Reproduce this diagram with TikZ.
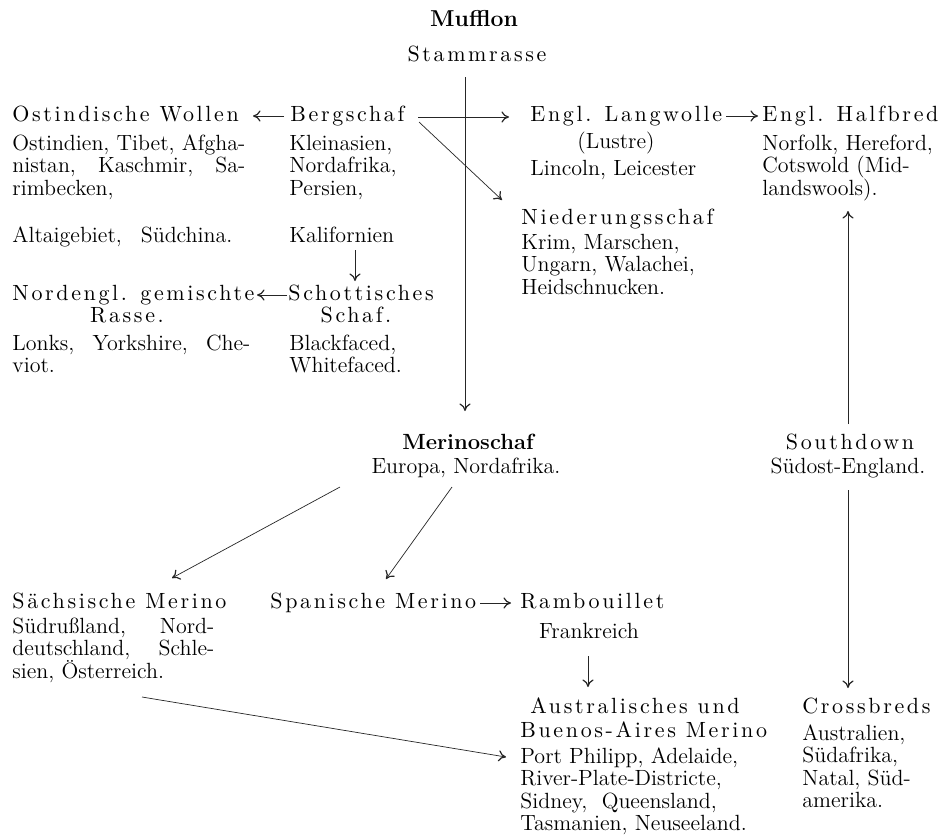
\documentclass[tikz,border=0pt]{standalone}
\usepackage{fontspec}
\usetikzlibrary{arrows.meta}
\newfontfamily\gesp{lmroman10-regular}[Extension=.otf, LetterSpace=12]
\newlength\jlen
\newcommand\jl[2]{\makebox[#1][s]{#2}}
\newcommand\blk[2]{\parbox[t]{#1}{#2}}
\newcommand\jfirst[2]{\settowidth\jlen{#1}#1\\\makebox[\jlen][s]{#2}}
\tikzset{
  every node/.style={font=\fontsize{11}{11.25}\selectfont, inner sep=0pt},
  lbl/.style={anchor=base west},
  ctr/.style={anchor=base},
  link/.style={line width=0.35pt, draw=black!85},
  arr/.style={link, -{To[length=3.8pt,width=5.6pt,line width=0.6pt]}},
}
\begin{document}
\begin{tikzpicture}[x=0.5pt,y=-0.5pt]
\fill[white] (0,0) rectangle (947,837);
\useasboundingbox (0,0) rectangle (947,837);

% top
\node[ctr,font=\fontsize{11.5}{11.25}\selectfont\bfseries] (mufflon) at (474,26) {Mufflon};
\node[ctr] (stamm) at (477,61) {\gesp Stammrasse};

% left upper
\node[lbl] (ostw) at (12,121) {\gesp Ostindische Wollen};
\node[lbl] (ostb) at (12,150) {\blk{130pt}{\jfirst{Ostindien, Tibet, Afgha-}{nistan, Kaschmir, Sa-}\\rimbecken,}};
\node[lbl] (alt) at (12,242) {\jl{110pt}{Altaigebiet, Südchina.}};

\node[lbl] (berg) at (290,121) {\gesp Bergschaf};
\node[lbl] (bergb) at (289,150) {\blk{80pt}{Kleinasien,\\Nordafrika,\\Persien,}};
\node[lbl] (kalif) at (289,242) {Kalifornien};

\node[lbl] (nord) at (12,300) {\gesp Nordengl. gemischte};
\node[ctr] (rasse) at (127,322) {\gesp Rasse.};
\node[lbl] (nordb) at (12,350) {\blk{130pt}{\jl{119pt}{Lonks, Yorkshire, Che-}\\viot.}};

\node[lbl] (schott) at (288,300) {\gesp Schottisches};
\node[ctr] (schaf) at (356,322) {\gesp Schaf.};
\node[lbl] (schottb) at (289,350) {\blk{80pt}{Blackfaced,\\Whitefaced.}};

% right upper
\node[lbl] (lang) at (530,121) {\gesp Engl. Langwolle};
\node[ctr] (lustre) at (616,148) {(Lustre)};
\node[lbl] (lincoln) at (530,175) {Lincoln, Leicester};

\node[lbl] (half) at (762,121) {\gesp Engl. Halfbred};
\node[lbl] (halfb) at (762,150) {\blk{110pt}{Norfolk, Hereford,\\Cotswold (Mid-\\landswools).}};

\node[lbl] (nied) at (521,224) {\gesp Niederungsschaf};
\node[lbl] (niedb) at (521,249) {\blk{100pt}{Krim, Marschen,\\Ungarn, Walachei,\\Heidschnucken.}};

% middle
\node[ctr,font=\fontsize{11}{11.25}\selectfont\bfseries] (merino) at (468,449) {Merinoschaf};
\node[ctr] (europa) at (466,473) {Europa, Nordafrika.};

\node[ctr] (south) at (850,449) {\gesp Southdown};
\node[ctr] (suedost) at (848,473) {Südost-England.};

% lower
\node[lbl] (saechs) at (12,608) {\gesp Sächsische Merino};
\node[lbl] (saechsb) at (12,633) {\blk{110pt}{\jl{101pt}{Südrußland, Nord-}\\\jl{101pt}{deutschland, Schle-}\\sien, Österreich.}};

\node[lbl] (span) at (270,608) {\gesp Spanische Merino};
\node[lbl] (ramb) at (520,608) {\gesp Rambouillet};
\node[ctr] (frank) at (589,638) {Frankreich};

\node[lbl] (aus1) at (530,713) {\gesp Australisches und};
\node[lbl] (aus2) at (520,737) {\gesp Buenos-Aires Merino};
\node[lbl] (ausb) at (520,763) {\blk{130pt}{Port Philipp, Adelaide,\\River-Plate-Districte,\\Sidney,\ \ Queensland,\\Tasmanien, Neuseeland.}};

\node[lbl] (cross) at (802,713) {\gesp Crossbreds};
\node[lbl] (crossb) at (802,740) {\blk{80pt}{Australien,\\Südafrika,\\Natal, Süd-\\amerika.}};

% connector end points
\coordinate (m0) at (465,77);   \coordinate (m1) at (465,411);
\coordinate (b0) at (284,116);  \coordinate (b1) at (253,116);
\coordinate (bl0) at (418,117); \coordinate (bl1) at (509,117);
\coordinate (bn0) at (419,122); \coordinate (bn1) at (502,200);
\coordinate (lh0) at (726,116); \coordinate (lh1) at (758,116);
\coordinate (k0) at (355,250);  \coordinate (k1) at (355,281);
\coordinate (s0) at (287,295);  \coordinate (s1) at (257,295);
\coordinate (sh0) at (848,424); \coordinate (sh1) at (848,211);
\coordinate (sc0) at (848,490); \coordinate (sc1) at (848,688);
\coordinate (ms0) at (340,487); \coordinate (ms1) at (172,578);
\coordinate (mp0) at (452,487); \coordinate (mp1) at (386,579);
\coordinate (sr0) at (480,603); \coordinate (sr1) at (511,603);
\coordinate (fa0) at (588,656); \coordinate (fa1) at (588,687);
\coordinate (sa0) at (142,697); \coordinate (sa1) at (506,757);

\draw[arr] (m0) -- (m1);
\draw[arr] (b0) -- (b1);
\draw[arr] (bl0) -- (bl1);
\draw[arr] (bn0) -- (bn1);
\draw[arr] (lh0) -- (lh1);
\draw[arr] (k0) -- (k1);
\draw[arr] (s0) -- (s1);
\draw[arr] (sh0) -- (sh1);
\draw[arr] (sc0) -- (sc1);
\draw[arr] (ms0) -- (ms1);
\draw[arr] (mp0) -- (mp1);
\draw[arr] (sr0) -- (sr1);
\draw[arr] (fa0) -- (fa1);
\draw[arr] (sa0) -- (sa1);
\end{tikzpicture}
\end{document}
